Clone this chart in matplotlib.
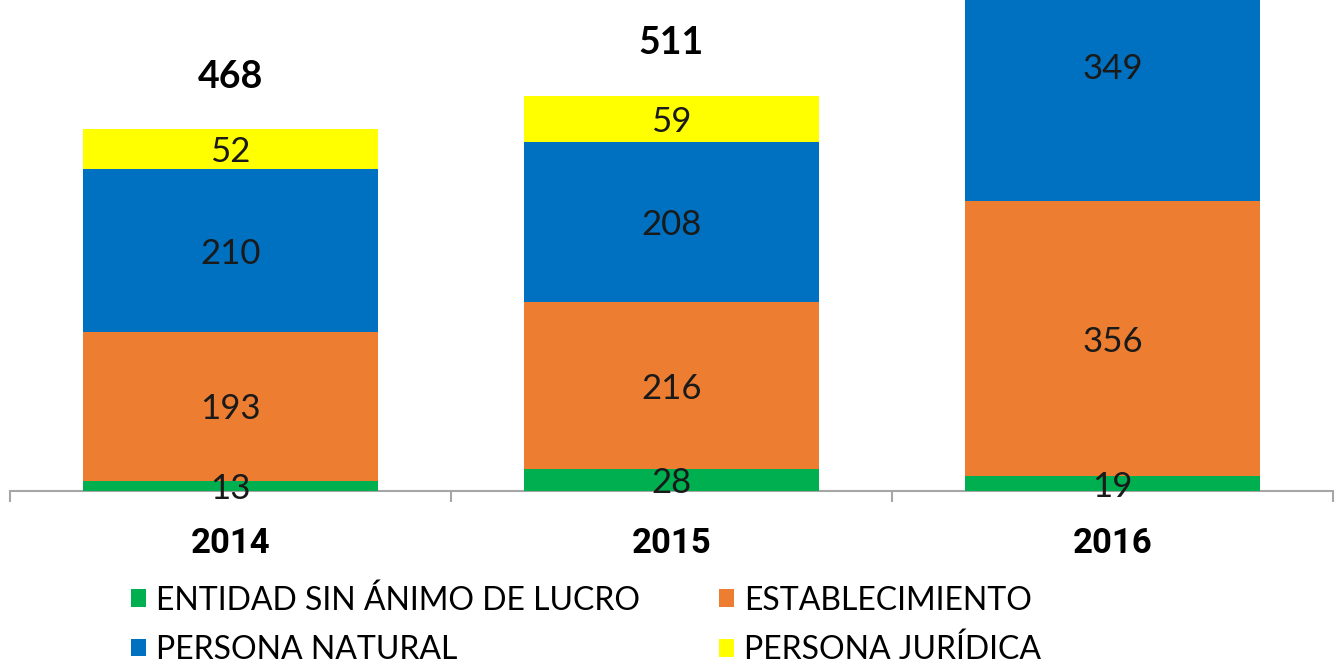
import matplotlib
matplotlib.use("Agg")
import matplotlib.pyplot as plt
from matplotlib.patches import Patch
import numpy as np

years = ["2014", "2015", "2016"]
series_names = ["ENTIDAD SIN ÁNIMO DE LUCRO", "ESTABLECIMIENTO", "PERSONA NATURAL", "PERSONA JURÍDICA"]
entidad = [13, 28, 19]
establecimiento = [193, 216, 356]
persona_natural = [210, 208, 349]
persona_juridica = [52, 59, 0]
totals = [468, 511, 724]
colors = ["#00B050", "#ED7D31", "#0070C0", "#FFFF00"]

fig = plt.figure(figsize=(13.42, 6.64), dpi=100)
ax = fig.add_axes([10/1342, 173/664, 1323/1342, 491/664])

x = np.arange(len(years))
data = [entidad, establecimiento, persona_natural, persona_juridica]
bottom = np.zeros(len(years))
label_font = "Lato"
for vals, col in zip(data, colors):
    vals = np.array(vals, dtype=float)
    ax.bar(x, vals, width=0.667, bottom=bottom, color=col, edgecolor="none", zorder=2)
    for xi, v, b in zip(x, vals, bottom):
        if v > 0:
            ax.text(xi, b + v / 2, f"{int(v)}", ha="center", va="center_baseline",
                    fontsize=25, family=label_font, color="#1a1a1a", zorder=3, clip_on=False)
    bottom += vals

for xi, t in zip(x, totals):
    ax.annotate(f"{t}", xy=(xi, t), xytext=(0, 40), textcoords="offset points",
                ha="center", va="center_baseline", fontsize=27, fontweight="bold",
                family=label_font, color="black", annotation_clip=True, clip_on=True)

ax.set_xlim(-0.5, 2.5)
ax.set_ylim(0, 635)
for s in ["top", "right", "left"]:
    ax.spines[s].set_visible(False)
ax.spines["bottom"].set_color("#A6A6A6")
ax.spines["bottom"].set_linewidth(1.5)
ax.spines["bottom"].set_zorder(1)
ax.set_yticks([])
ax.set_xticks(x)
ax.set_xticklabels(years, fontsize=25, fontweight="bold", family="Roboto")
ax.tick_params(axis="x", which="major", length=0, pad=26)
ax.set_xticks([-0.5, 0.5, 1.5, 2.5], minor=True)
ax.tick_params(axis="x", which="minor", length=8, width=1.5, color="#A6A6A6", direction="out")

handles = [Patch(facecolor=c, edgecolor="none") for c in colors]
order = [0, 2, 1, 3]
leg = fig.legend([handles[i] for i in order], [series_names[i] for i in order],
                 ncol=2, loc="upper left", bbox_to_anchor=(131/1342, 1 - 585/664),
                 frameon=False, prop={"family": label_font, "size": 23},
                 handlelength=0.47, handleheight=0.47, handletextpad=0.3,
                 columnspacing=2.5, labelspacing=0.6, borderaxespad=0, borderpad=0)

fig.savefig("out.png", dpi=100)
